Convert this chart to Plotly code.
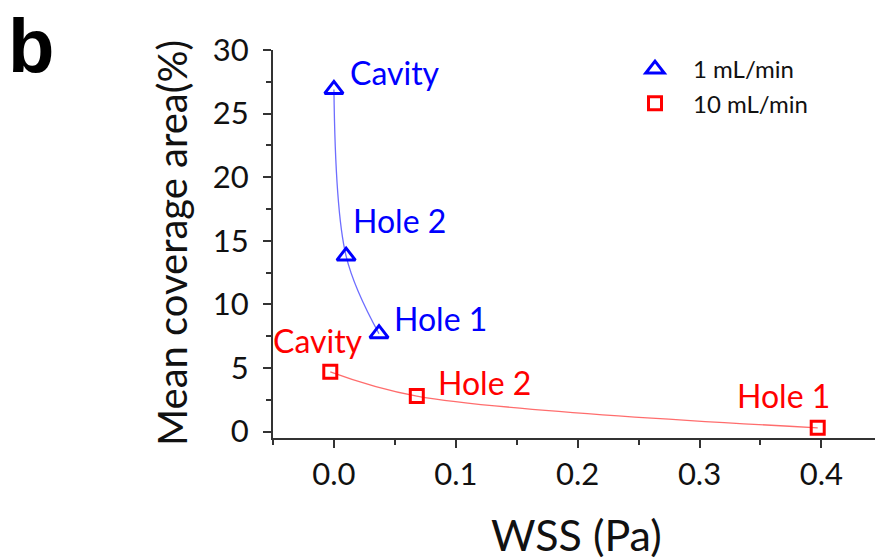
import plotly.graph_objects as go

# ---- data ----
site_labels = ["Cavity", "Hole 2", "Hole 1"]
wss_1ml = [0.0, 0.010, 0.037]
cov_1ml = [26.9, 13.8, 7.7]
wss_10ml = [-0.003, 0.068, 0.397]
cov_10ml = [4.7, 2.8, 0.3]
x_ticks = [0.0, 0.1, 0.2, 0.3, 0.4]
y_ticks = [0, 5, 10, 15, 20, 25, 30]

FONT = "Lato"
BLUE = "#0000FF"
RED = "#FF0000"

# plot-area geometry in pixels
L, T, W, H = 273, 50, 602, 388


def px(xp):
    return (xp - L) / W


def py(yp):
    return (T + H - yp) / H


fig = go.Figure()

# smooth connecting curves
fig.add_trace(go.Scatter(x=wss_1ml, y=cov_1ml, mode="lines",
                         line=dict(color="rgba(60,60,255,0.75)", width=1.3, shape="spline", smoothing=1.0),
                         showlegend=False, hoverinfo="skip"))
fig.add_trace(go.Scatter(x=wss_10ml, y=cov_10ml, mode="lines",
                         line=dict(color="rgba(255,60,60,0.75)", width=1.3, shape="spline", smoothing=1.0),
                         showlegend=False, hoverinfo="skip"))

# markers
fig.add_trace(go.Scatter(x=wss_1ml, y=cov_1ml, mode="markers", name="1 mL/min",
                         legendgroup="a",
                         marker=dict(symbol="triangle-up-open", size=16, color=BLUE,
                                     line=dict(color=BLUE, width=3))))
fig.add_trace(go.Scatter(x=wss_10ml, y=cov_10ml, mode="markers", name="10 mL/min",
                         legendgroup="b",
                         marker=dict(symbol="square-open", size=13, color=RED,
                                     line=dict(color=RED, width=3))))

# point labels (offsets in px)
blue_off = [(61, 17), (53, 36), (61, 15)]
red_off = [(-12, 31), (68, 14), (-34, 32)]
for xs, ys, offs, col in [(wss_1ml, cov_1ml, blue_off, BLUE), (wss_10ml, cov_10ml, red_off, RED)]:
    for lab, xv, yv, (dx, dy) in zip(site_labels, xs, ys, offs):
        fig.add_annotation(x=xv, y=yv, xref="x", yref="y", text=lab, showarrow=False,
                           xshift=dx, yshift=dy, font=dict(family=FONT, size=32, color=col))

# panel letter
fig.add_annotation(x=px(31), y=py(0.5), xref="paper", yref="paper", text="<b>b</b>", showarrow=False,
                   xanchor="center", yanchor="top",
                   font=dict(family="Liberation Sans", size=76, color="black"))

# axis titles
fig.add_annotation(text="WSS (Pa)", showarrow=False, xref="paper", yref="paper",
                   x=px(576), y=py(534), xanchor="center", yanchor="middle",
                   font=dict(family=FONT, size=43, color="#111"))
fig.add_annotation(text="Mean coverage area(%)", showarrow=False, textangle=-90,
                   xref="paper", yref="paper", x=px(172), y=py(243),
                   xanchor="center", yanchor="middle",
                   font=dict(family=FONT, size=40, color="#111"))

axis_common = dict(showline=True, linecolor="#333", linewidth=2, showgrid=False, zeroline=False,
                   ticks="outside", ticklen=8, tickwidth=2, tickcolor="#333", automargin=False,
                   tickfont=dict(family=FONT, size=31, color="#111"))

fig.update_xaxes(range=[-0.05, 0.444], tickvals=x_ticks, ticktext=[f"{v:.1f}" for v in x_ticks],
                 minor=dict(dtick=0.05, ticks="outside", ticklen=5, tickwidth=2, tickcolor="#333"),
                 ticklabelstandoff=0, **axis_common)
fig.update_yaxes(range=[-0.5, 30], tickvals=y_ticks, ticktext=[str(v) for v in y_ticks],
                 minor=dict(dtick=2.5, ticks="outside", ticklen=5, tickwidth=2, tickcolor="#333"),
                 ticklabelstandoff=8, **axis_common)

fig.update_layout(
    width=875, height=560,
    margin=dict(l=L, r=875 - L - W, t=T, b=560 - T - H),
    paper_bgcolor="white", plot_bgcolor="white",
    legend=dict(x=px(617), y=py(47), xanchor="left", yanchor="top",
                bgcolor="rgba(0,0,0,0)", tracegroupgap=0, itemwidth=66,
                font=dict(family=FONT, size=24, color="#111")),
    showlegend=True,
)

fig.write_html("out.html", config={"displayModeBar": False},
               post_script="document.body.style.margin='0';")
